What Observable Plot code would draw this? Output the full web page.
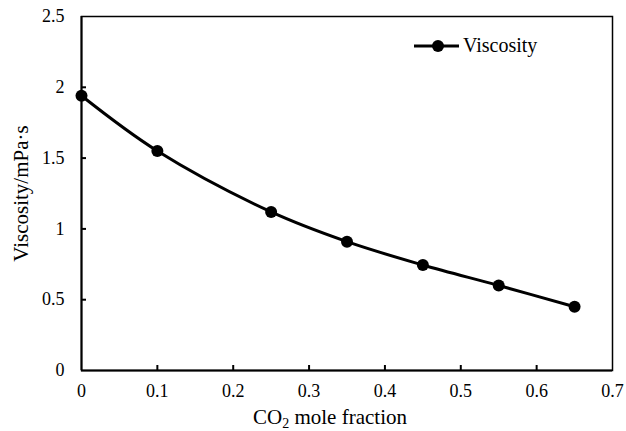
<!DOCTYPE html>
<html>
<head>
<meta charset="utf-8">
<script src="https://cdn.jsdelivr.net/npm/d3@7"></script>
<script src="https://cdn.jsdelivr.net/npm/@observablehq/plot@0.6"></script>
<style>
  html, body { margin: 0; padding: 0; background: #fff; }
  #wrap { position: relative; width: 626px; height: 431px; font-family: "Liberation Serif", "Times New Roman", serif; }
  #xlabel { position: absolute; left: 0; width: 626px; top: 405px; text-align: center; padding-left: 34px; box-sizing: border-box; font-size: 21px; line-height: 24px; color: #000; }
  #xlabel sub { font-size: 14px; vertical-align: -4px; line-height: 0; }
  #legend { position: absolute; left: 412px; top: 34px; display: flex; align-items: center; font-size: 20px; color: #000; }
</style>
</head>
<body>
<div id="wrap">
  <div id="chart"></div>
  <div id="legend"><svg width="50" height="22"><line x1="2" y1="11" x2="47" y2="11" stroke="#000" stroke-width="3"/><circle cx="26" cy="11" r="6" fill="#000"/></svg><span style="margin-left:1px">Viscosity</span></div>
  <div id="xlabel">CO<sub>2</sub> mole fraction</div>
</div>
<script>
const co2Fraction = [0, 0.1, 0.25, 0.35, 0.45, 0.55, 0.65];
const viscosity = [1.94, 1.55, 1.12, 0.91, 0.745, 0.60, 0.45];
const xTicks = [0, 0.1, 0.2, 0.3, 0.4, 0.5, 0.6, 0.7];
const yTicks = [0, 0.5, 1, 1.5, 2, 2.5];

const data = co2Fraction.map((x, i) => ({x, y: viscosity[i]}));

const chart = Plot.plot({
  width: 626,
  height: 431,
  marginLeft: 81,
  marginRight: 14,
  marginTop: 16,
  marginBottom: 61,
  style: {fontFamily: "'Liberation Serif', 'Times New Roman', serif", fontSize: "18px", color: "#000", background: "#fff"},
  x: {domain: [0, 0.7]},
  y: {domain: [0, 2.5]},
  marks: [
    Plot.frame({stroke: "#000", strokeWidth: 1.5}),
    Plot.axisX(xTicks, {tickSize: 0, tickPadding: 14, tickFormat: d => String(d), label: null, fontSize: 18}),
    Plot.axisX(xTicks.slice(1, -1), {tickSize: -5, text: null, strokeWidth: 2, label: null}),
    Plot.axisY(yTicks, {tickSize: 0, tickPadding: 17, tickFormat: d => String(d), label: null, fontSize: 18}),
    Plot.axisY(yTicks.slice(1, -1), {tickSize: -5, text: null, strokeWidth: 2, label: null}),
    Plot.ruleX([0], {stroke: "#000", strokeWidth: 2}),
    Plot.ruleY([0], {stroke: "#000", strokeWidth: 2}),
    Plot.text(["Viscosity/mPa·s"], {frameAnchor: "left", textAnchor: "middle", dx: -60, rotate: -90, fontSize: 21, fill: "#000"}),
    Plot.line(data, {x: "x", y: "y", curve: "catmull-rom", stroke: "#000", strokeWidth: 3}),
    Plot.dot(data, {x: "x", y: "y", r: 6, fill: "#000", stroke: "none"})
  ]
});
document.getElementById("chart").appendChild(chart);
</script>
</body>
</html>
